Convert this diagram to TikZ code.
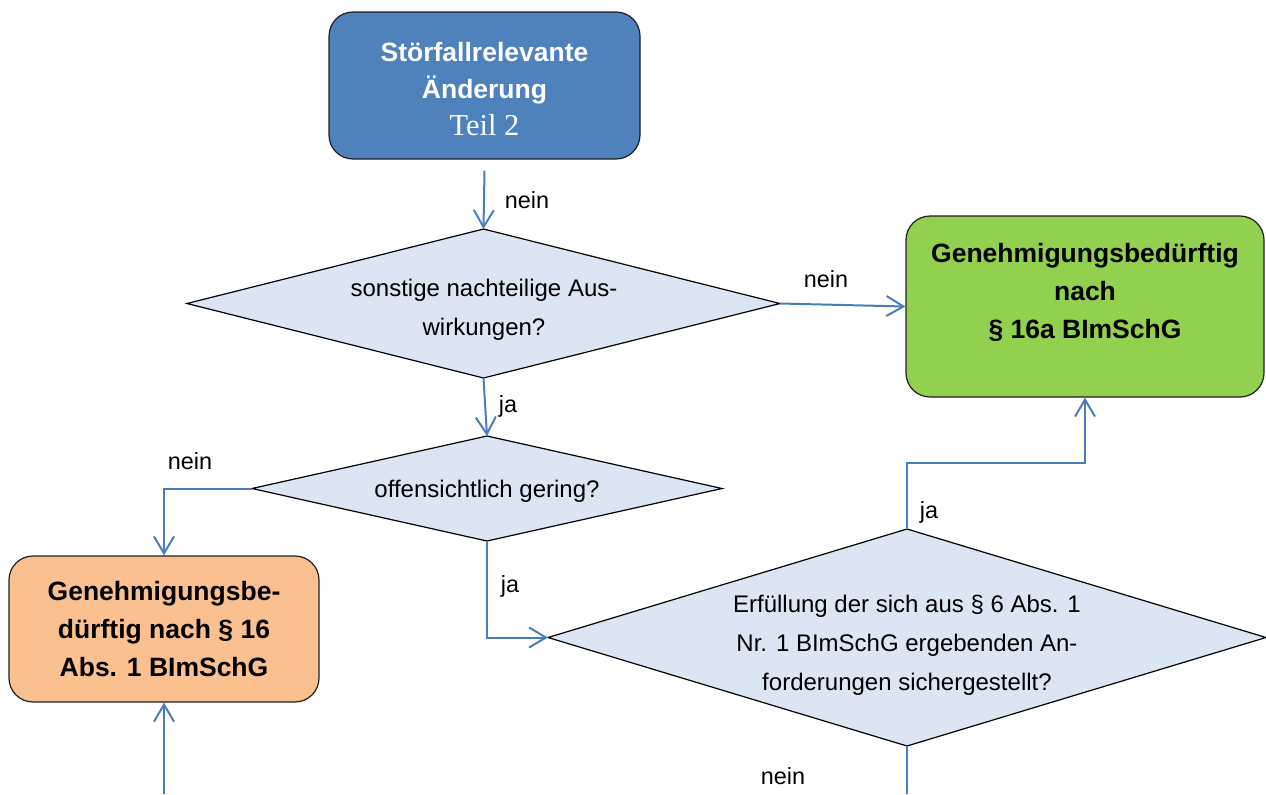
\documentclass[tikz,border=0pt]{standalone}
\usepackage{fontspec}
\setmainfont{Liberation Sans}
\newfontfamily\timesfont{Liberation Serif}
\usetikzlibrary{shapes.geometric,arrows.meta}
\definecolor{boxblue}{HTML}{4F81BD}
\definecolor{boxgreen}{HTML}{92D050}
\definecolor{boxorange}{HTML}{FAC090}
\definecolor{diafill}{HTML}{DCE6F2}
\definecolor{linkblue}{HTML}{4A7EBB}
\definecolor{edgecol}{HTML}{1F1F1F}
\begin{document}
\begin{tikzpicture}[x=0.5pt,y=-0.5pt,
  box/.style={draw=edgecol, line width=0.6pt, rounded corners=12pt, inner sep=0pt, align=center,
    font=\bfseries\fontsize{13.25}{19}\selectfont},
  dia/.style={draw=black, line width=0.6pt, fill=diafill, shape=diamond, inner sep=0pt, outer sep=0pt},
  diatext/.style={align=center, font=\fontsize{12}{19.5}\selectfont, inner sep=0pt},
  boxtext/.style={align=center, font=\bfseries\fontsize{13.25}{19}\selectfont, inner sep=0pt},
  lbl/.style={font=\fontsize{11.7}{14}\selectfont, inner sep=0pt},
  link/.style={draw=linkblue, line width=1pt, -{Straight Barb[length=8.5pt,width=10pt]}},
  plainlink/.style={draw=linkblue, line width=1pt}]
\useasboundingbox (0,0) rectangle (1266,794);

% boxes
\node[box, fill=boxblue, minimum width=155.5pt, minimum height=73.5pt] (top) at (484.5,85.5) {};
\node[boxtext, text=white, font=\bfseries\fontsize{13.25}{18.5}\selectfont] (topt) at (484.5,89.5)
  {Störfallrelevante\\Änderung\\{\timesfont\mdseries\fontsize{15.2}{18.5}\selectfont Teil 2}};
\node[box, fill=boxgreen, minimum width=179pt, minimum height=90.5pt] (g) at (1085,306.5) {};
\node[boxtext] (gt) at (1085,292) {Genehmigungsbedürftig\\nach\\§ 16a BImSchG};
\node[box, fill=boxorange, minimum width=155pt, minimum height=73pt] (o) at (164,629)
  {Genehmigungsbe-\\dürftig nach § 16\\Abs. 1 BImSchG};

% decisions
\node[dia, minimum width=296.5pt, minimum height=74.5pt] (d1) at (483.5,303.5) {};
\node[diatext] (d1t) at (484,310) {sonstige nachteilige Aus-\\wirkungen?};
\node[dia, minimum width=235pt, minimum height=52.5pt] (d2) at (487,488.5) {};
\node[diatext] (d2t) at (487,491) {offensichtlich gering?};
\node[dia, minimum width=359pt, minimum height=108.5pt] (d3) at (907,637.5) {};
\node[diatext] (d3t) at (907,645) {Erfüllung der sich aus § 6 Abs. 1\\Nr. 1 BImSchG ergebenden An-\\forderungen sichergestellt?};

% free ends
\coordinate (bl) at (164,794);
\coordinate (br) at (907,794);

% connectors
\draw[link] ([yshift=-5.5pt]top.south) -- (d1.north);
\draw[link] (d1.east) -- (g.west);
\draw[link] (d1.south) -- (d2.north);
\draw[link] (d2.west) -| (o.north);
\draw[link] (bl) -- (o.south);
\draw[link] (d2.south) |- (d3.west);
\draw[link] (d3.north) -- ++(0,-66) -| (g.south);
\draw[plainlink] (d3.south) -- (br);

% labels
\node[lbl] (l1) at (527,200) {nein};
\node[lbl] (l2) at (826,279) {nein};
\node[lbl] (l3) at (508,406) {ja};
\node[lbl] (l4) at (190,461) {nein};
\node[lbl] (l5) at (510,586) {ja};
\node[lbl] (l6) at (929,512) {ja};
\node[lbl] (l7) at (783,776) {nein};
\end{tikzpicture}
\end{document}
